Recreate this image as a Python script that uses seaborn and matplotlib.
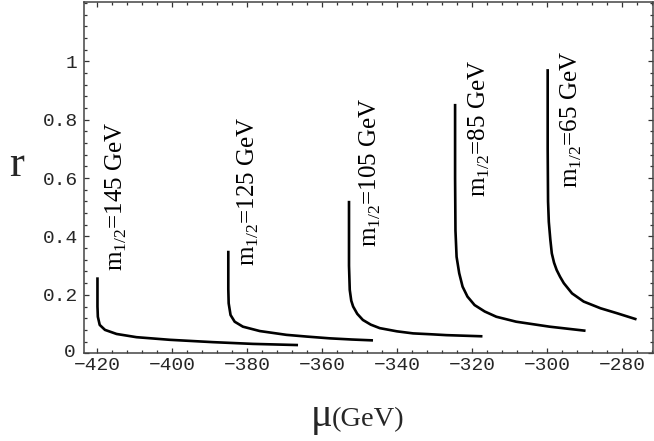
import numpy as np
import pandas as pd
import matplotlib
matplotlib.use("Agg")
import matplotlib.pyplot as plt
import matplotlib.transforms as mtransforms
from matplotlib.ticker import MultipleLocator, FixedLocator
import seaborn as sns

# ---- data ----
mu_145 = [-419.9, -419.9, -419.8, -419.3, -417.9, -414.8, -409.5, -400.6, -389.1, -378.4, -366.4]
r_145 = [0.260, 0.160, 0.125, 0.097, 0.080, 0.066, 0.055, 0.046, 0.038, 0.032, 0.028]

mu_125 = [-385.0, -385.0, -384.9, -384.4, -383.3, -381.1, -376.6, -369.5, -364.0, -357.9, -352.0, -346.4]
r_125 = [0.351, 0.220, 0.171, 0.131, 0.108, 0.091, 0.076, 0.063, 0.057, 0.051, 0.047, 0.044]

mu_105 = [-352.8, -352.8, -352.6, -352.2, -351.7, -350.6, -349.1, -347.0, -344.6, -340.0, -335.7, -331.0, -326.8, -322.0, -317.2]
r_105 = [0.522, 0.300, 0.217, 0.180, 0.160, 0.135, 0.114, 0.098, 0.086, 0.075, 0.068, 0.065, 0.062, 0.060, 0.058]

mu_85 = [-324.5, -324.5, -324.4, -324.1, -323.4, -322.5, -321.2, -319.3, -316.6, -313.5, -308.2, -299.3, -289.7]
r_85 = [0.854, 0.600, 0.420, 0.330, 0.274, 0.228, 0.194, 0.165, 0.143, 0.125, 0.108, 0.091, 0.077]

mu_65 = [-299.8, -299.8, -299.7, -299.5, -299.1, -298.7, -298.1, -297.4, -296.5, -295.5, -293.3, -290.2, -285.7, -281.3, -276.1]
r_65 = [0.973, 0.700, 0.520, 0.450, 0.390, 0.342, 0.310, 0.285, 0.262, 0.240, 0.205, 0.177, 0.154, 0.137, 0.116]

m_half = ["145", "125", "105", "85", "65"]
x_ticks = [-420, -400, -380, -360, -340, -320, -300, -280]
y_ticks = [0, 0.2, 0.4, 0.6, 0.8, 1.0]
y_tick_labels = ["0", "0.2", "0.4", "0.6", "0.8", "1"]

# label anchor positions (centre x, bottom r)
label_pos = [(-414.9, 0.280), (-379.6, 0.300), (-347.0, 0.365), (-317.9, 0.536), (-293.4, 0.565)]

series = [(mu_145, r_145), (mu_125, r_125), (mu_105, r_105), (mu_85, r_85), (mu_65, r_65)]
frames = []
for name, (m, r) in zip(m_half, series):
    frames.append(pd.DataFrame({"mu": m, "r": r, "curve": name}))
df = pd.concat(frames, ignore_index=True)

sns.set_style("ticks")
plt.rcParams["font.family"] = ["Liberation Serif", "DejaVu Serif"]
plt.rcParams["mathtext.fontset"] = "custom"
plt.rcParams["mathtext.rm"] = "Liberation Serif"

fig = plt.figure(figsize=(6.54, 4.41), dpi=100)
ax = fig.add_axes([0.1284, 0.199, 0.8701, 0.7965])

sns.lineplot(data=df, x="mu", y="r", units="curve", estimator=None, sort=False,
             color="black", lw=1.9, ax=ax, legend=False)
for ln in ax.get_lines():
    ln.set_solid_joinstyle("round")
    ln.set_solid_capstyle("butt")

ax.set_xlim(-423.5, -271.7)
ax.set_ylim(0, 1.203)
ax.xaxis.set_major_locator(FixedLocator(x_ticks))
ax.xaxis.set_minor_locator(MultipleLocator(4))
ax.set_yticks(y_ticks)
ax.set_yticklabels(y_tick_labels)
ax.yaxis.set_minor_locator(MultipleLocator(0.04))
ax.set_xticklabels([f"\u2212{abs(v)}" for v in x_ticks])

for lab in ax.get_xticklabels() + ax.get_yticklabels():
    lab.set_family(["Liberation Mono", "DejaVu Sans Mono"])
    lab.set_fontsize(14)

ax.tick_params(which="both", direction="in", top=True, right=True, color="#333333", width=0.9)
ax.tick_params(which="major", length=3.6)
ax.tick_params(which="minor", length=2.0)
ax.tick_params(axis="y", pad=4.5)
ax.tick_params(axis="x", pad=3.0)
for s in ax.spines.values():
    s.set_color("#444444")
    s.set_linewidth(1.1)

# nudge the "0" label up and left a little so it clears "-420"
zero_lab = ax.yaxis.get_major_ticks()[0].label1
zero_lab.set_transform(zero_lab.get_transform() +
                       mtransforms.ScaledTranslation(-2 / 100, 3 / 100, fig.dpi_scale_trans))

ax.set_xlabel("")
ax.set_ylabel("")

for name, (lx, ly) in zip(m_half, label_pos):
    ax.text(lx, ly, r"m$_{\mathrm{1/2}}$=" + name + " GeV", rotation=90,
            ha="center", va="bottom", fontsize=18, color="black")

fig.text(17 / 654, 1 - 165 / 441, "r", fontsize=32, ha="center", va="center")
fig.text(311 / 654, 1 - 426 / 441, "\u03bc", fontsize=29, ha="left", va="baseline")
fig.text(331.5 / 654, 1 - 426 / 441, "(GeV)", fontsize=20.5, ha="left", va="baseline")

fig.savefig("out.png", dpi=100)
